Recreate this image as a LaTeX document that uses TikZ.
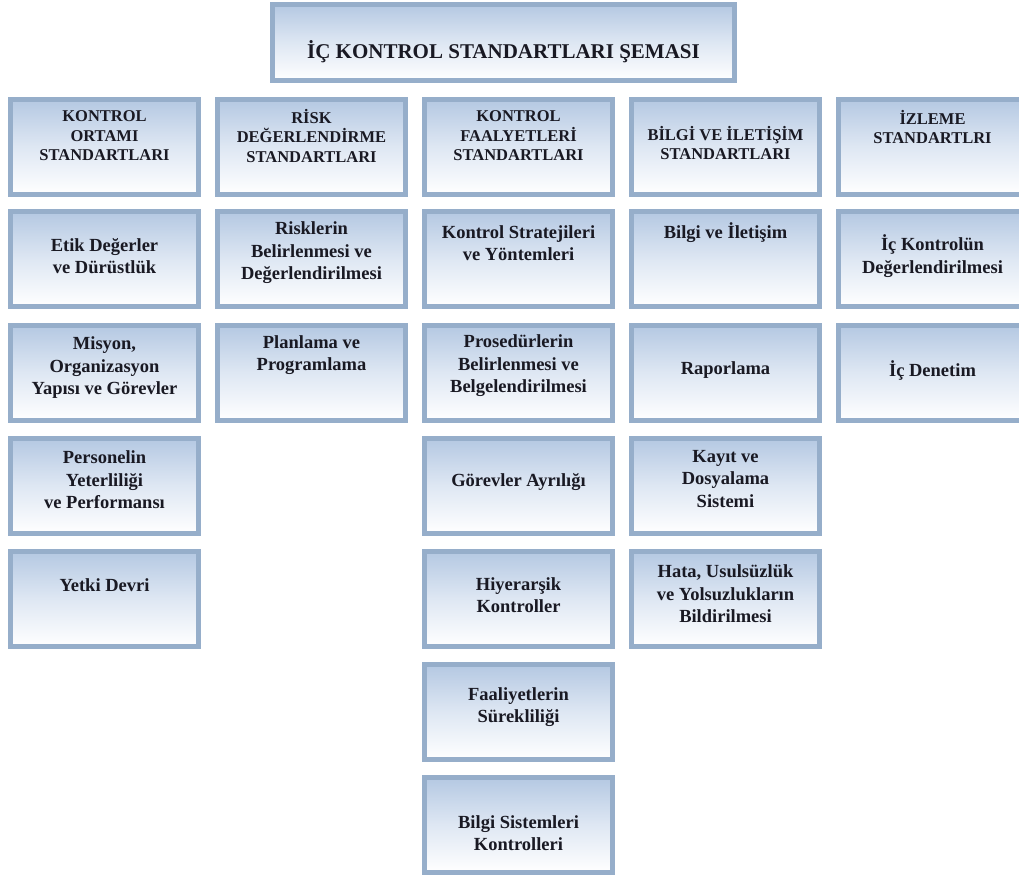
\documentclass[tikz,border=0pt]{standalone}
\usepackage{fontspec}
\setmainfont{Liberation Serif}
\usepackage{tikz}
\definecolor{boxedge}{RGB}{150, 174, 202}
\definecolor{boxtop}{RGB}{180, 200, 226}
\definecolor{boxmid}{RGB}{222, 231, 243}
\definecolor{ink}{RGB}{25, 25, 35}

\tikzset{
    stdbox/.style={rectangle, draw=boxedge, line width=5pt, top color=boxtop, bottom color=white, middle color=boxmid,
                   minimum width=188pt, minimum height=95pt, inner sep=0pt},
    headtxt/.style={text=ink, align=center, font=\bfseries\fontsize{16.5}{19.5}\selectfont},
    bodytxt/.style={text=ink, align=center, font=\bfseries\fontsize{18.5}{22.5}\selectfont}
}

\begin{document}
\begin{tikzpicture}[x=1pt, y=-1pt]
        \useasboundingbox (0,0) rectangle (1019,878);
        % title
        \node[stdbox, minimum width=462pt, minimum height=76pt] (title)   at (503.5, 42.5) {};
        \node[text=ink, font=\bfseries\fontsize{21}{25}\selectfont]  (title-t) at (503.5, 52.0) {İÇ KONTROL STANDARTLARI ŞEMASI};
        % header row
        \node[stdbox] (ortam)  at (104.5,146.5) {};  \node[headtxt] (ortam-t)  at (104.5,136.0) {KONTROL\\ORTAMI\\STANDARTLARI};
        \node[stdbox] (risk)   at (311.5,146.5) {};  \node[headtxt] (risk-t)   at (311.5,136.0) {RİSK\\DEĞERLENDİRME\\STANDARTLARI};
        \node[stdbox] (faal)   at (518.5,146.5) {};  \node[headtxt] (faal-t)   at (518.5,136.0) {KONTROL\\FAALYETLERİ\\STANDARTLARI};
        \node[stdbox] (bilgi)  at (725.5,146.5) {};  \node[headtxt] (bilgi-t)  at (725.5,143.0) {BİLGİ VE İLETİŞİM\\STANDARTLARI};
        \node[stdbox] (izleme) at (932.5,146.5) {};  \node[headtxt] (izleme-t) at (932.5,127.0) {İZLEME\\STANDARTLRI};
        % kontrol ortami
        \node[stdbox] (etik)   at (104.5,259.0) {};  \node[bodytxt] (etik-t)   at (104.5,256.0) {Etik Değerler\\ve Dürüstlük};
        \node[stdbox] (misyon) at (104.5,372.5) {};  \node[bodytxt] (misyon-t) at (104.5,368.0) {Misyon,\\Organizasyon\\Yapısı ve Görevler};
        \node[stdbox] (pers)   at (104.5,485.5) {};  \node[bodytxt] (pers-t)   at (104.5,480.0) {Personelin\\Yeterliliği\\ve Performansı};
        \node[stdbox] (yetki)  at (104.5,598.5) {};  \node[bodytxt] (yetki-t)  at (104.5,585.0) {Yetki Devri};
        % risk degerlendirme
        \node[stdbox] (riskb)  at (311.5,259.0) {};  \node[bodytxt] (riskb-t)  at (311.5,253.0) {Risklerin\\Belirlenmesi ve\\Değerlendirilmesi};
        \node[stdbox] (plan)   at (311.5,372.5) {};  \node[bodytxt] (plan-t)   at (311.5,355.0) {Planlama ve\\Programlama};
        % kontrol faaliyetleri
        \node[stdbox] (strat)  at (518.5,259.0) {};  \node[bodytxt] (strat-t)  at (518.5,243.0) {Kontrol Stratejileri\\ve Yöntemleri};
        \node[stdbox] (pros)   at (518.5,372.5) {};  \node[bodytxt] (pros-t)   at (518.5,366.0) {Prosedürlerin\\Belirlenmesi ve\\Belgelendirilmesi};
        \node[stdbox] (ayril)  at (518.5,485.5) {};  \node[bodytxt] (ayril-t)  at (518.5,482.0) {Görevler Ayrılığı};
        \node[stdbox] (hiyer)  at (518.5,598.5) {};  \node[bodytxt] (hiyer-t)  at (518.5,595.0) {Hiyerarşik\\Kontroller};
        \node[stdbox] (surek)  at (518.5,712.0) {};  \node[bodytxt] (surek-t)  at (518.5,707.0) {Faaliyetlerin\\Sürekliliği};
        \node[stdbox] (bsis)   at (518.5,824.5) {};  \node[bodytxt] (bsis-t)   at (518.5,833.0) {Bilgi Sistemleri\\Kontrolleri};
        % bilgi ve iletisim
        \node[stdbox] (ilet)   at (725.5,259.0) {};  \node[bodytxt] (ilet-t)   at (725.5,233.0) {Bilgi ve İletişim};
        \node[stdbox] (rapor)  at (725.5,372.5) {};  \node[bodytxt] (rapor-t)  at (725.5,370.0) {Raporlama};
        \node[stdbox] (kayit)  at (725.5,485.5) {};  \node[bodytxt] (kayit-t)  at (725.5,479.0) {Kayıt ve\\Dosyalama\\Sistemi};
        \node[stdbox] (hata)   at (725.5,598.5) {};  \node[bodytxt] (hata-t)   at (725.5,594.0) {Hata, Usulsüzlük\\ve Yolsuzlukların\\Bildirilmesi};
        % izleme
        \node[stdbox] (degr)   at (932.5,259.0) {};  \node[bodytxt] (degr-t)   at (932.5,256.0) {İç Kontrolün\\Değerlendirilmesi};
        \node[stdbox] (denet)  at (932.5,372.5) {};  \node[bodytxt] (denet-t)  at (932.5,370.0) {İç Denetim};
\end{tikzpicture}
\end{document}
